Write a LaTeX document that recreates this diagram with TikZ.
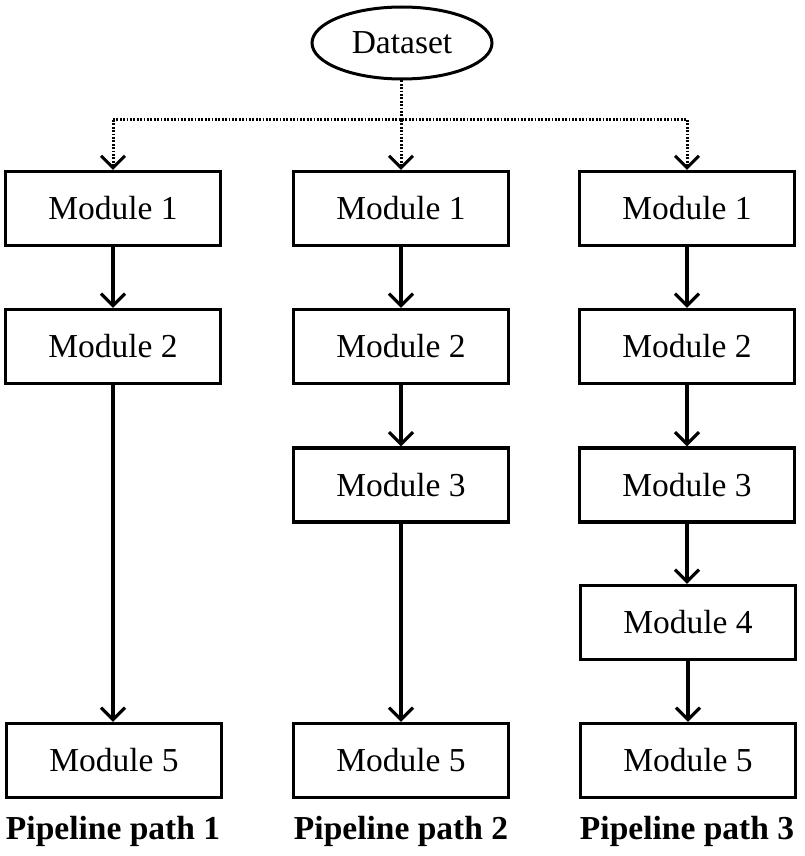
\documentclass[tikz,border=0pt]{standalone}
\usepackage{fontspec}
\setmainfont{Liberation Serif}
\usetikzlibrary{arrows.meta,shapes.geometric}
\begin{document}
\begin{tikzpicture}[x=1pt,y=-1pt,
  box/.style={draw, line width=3.2pt, minimum width=215pt, minimum height=74pt, inner sep=0pt, font=\fontsize{33.5}{36}\selectfont},
  dsnode/.style={draw, ellipse, line width=3pt, minimum width=180pt, minimum height=72pt, inner sep=0pt, font=\fontsize{33.5}{36}\selectfont},
  lab/.style={font=\fontsize{33.5}{36}\selectfont\bfseries, inner sep=0pt},
  arr/.style={line width=3.2pt, -{Straight Barb[length=12pt,width=24pt,line width=3.2pt]}},
  dotline/.style={line width=3pt, dash pattern=on 1.8pt off 1.6pt},
  dotarr/.style={dotline, -{Straight Barb[length=12pt,width=24pt,line width=3pt]}}
]
\useasboundingbox (0,0) rectangle (804,856);
% dataset
\node[dsnode] (ds) at (402,43) {Dataset};
% column 1
\node[box] (a1) at (113,208.5) {Module 1};
\node[box] (a2) at (113,346.5) {Module 2};
\node[box] (a5) at (114,760.5) {Module 5};
% column 2
\node[box] (b1) at (401,208.5) {Module 1};
\node[box] (b2) at (401,346.5) {Module 2};
\node[box] (b3) at (401,485) {Module 3};
\node[box] (b5) at (401,760.5) {Module 5};
% column 3
\node[box] (c1) at (687,208.5) {Module 1};
\node[box] (c2) at (687,346.5) {Module 2};
\node[box] (c3) at (687,485) {Module 3};
\node[box] (c4) at (688,622.5) {Module 4};
\node[box] (c5) at (688,760.5) {Module 5};
% labels
\node[lab] (l1) at (113,831) {Pipeline path 1};
\node[lab] (l2) at (401,831) {Pipeline path 2};
\node[lab] (l3) at (687,831) {Pipeline path 3};
% dotted distribution
\coordinate (j1) at (113,120);
\coordinate (j2) at (401,120);
\coordinate (j3) at (687,120);
\draw[dotline] (ds.south -| j2) -- (j2);
\draw[dotline] (j1) -- (j3);
\draw[dotarr] (j1) -- (a1.north);
\draw[dotarr] (j2) -- (b1.north);
\draw[dotarr] (j3) -- (c1.north);
% arrows
\draw[arr] (a1) -- (a2);
\draw[arr] (a2.south) -- (a2.south |- a5.north);
\draw[arr] (b1) -- (b2);
\draw[arr] (b2) -- (b3);
\draw[arr] (b3) -- (b5);
\draw[arr] (c1) -- (c2);
\draw[arr] (c2) -- (c3);
\draw[arr] (c3) -- (c3.south |- c4.north);
\draw[arr] (c4) -- (c5);
\end{tikzpicture}
\end{document}
